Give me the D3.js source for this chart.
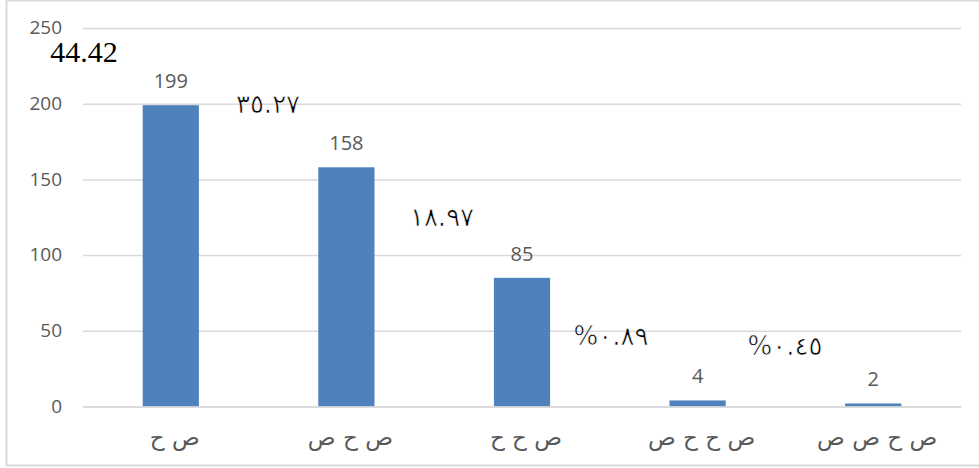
<!DOCTYPE html>
<html><head><meta charset="utf-8">
<script src="https://cdn.jsdelivr.net/npm/d3@7"></script>
<style>
html,body{margin:0;padding:0;background:#fff;overflow:hidden;}
svg{display:block;}
</style></head>
<body>
<svg id="chart" width="979" height="468"></svg>
<script>
const categories = ["ص ح", "ص ح ص", "ص ح ح", "ص ح ح ص", "ص ح ص ص"];
const counts = [199, 158, 85, 4, 2];
const percentLabels = ["44.42", "٣٥.٢٧", "١٨.٩٧", "%٠.٨٩", "%٠.٤٥"];
const yTicks = [0, 50, 100, 150, 200, 250];

const svg = d3.select("#chart");
const plot = {left: 83, right: 961, top: 28, bottom: 406.5};

// chart border
svg.append("rect").attr("x", 6.5).attr("y", 0.5).attr("width", 1000).attr("height", 465)
  .attr("fill", "none").attr("stroke", "#d9d9d9").attr("stroke-width", 2);

const x = d3.scaleBand().domain(categories).range([plot.left, plot.right]).padding(0);
const y = d3.scaleLinear().domain([0, 250]).range([plot.bottom, plot.top]);
const barW = x.bandwidth() * 0.32;

// gridlines + y ticks
const yAxis = d3.axisLeft(y).tickValues(yTicks).tickSize(-(plot.right - plot.left)).tickPadding(21);
const gy = svg.append("g").attr("transform", `translate(${plot.left},0)`).call(yAxis);
gy.select(".domain").remove();
gy.selectAll(".tick line").attr("stroke", "#d9d9d9").attr("stroke-width", 1.5);
gy.selectAll(".tick text").attr("fill", "#595959")
  .style("font-family", "'Open Sans', 'Liberation Sans', sans-serif").style("font-size", "19px")
  .attr("dy", "0.3em");

// bars
svg.append("g").selectAll("rect").data(counts).join("rect")
  .attr("x", (d, i) => x(categories[i]) + x.bandwidth() / 2 - barW / 2)
  .attr("y", d => y(d))
  .attr("width", barW)
  .attr("height", d => y(0) - y(d))
  .attr("fill", "#4f81bd");

// category axis
const xAxis = d3.axisBottom(x).tickSize(0).tickPadding(22);
const gx = svg.append("g").attr("transform", `translate(0,${plot.bottom})`).call(xAxis);
gx.select(".domain").attr("stroke", "#d9d9d9").attr("stroke-width", 1.5);
gx.selectAll(".tick text").attr("fill", "#595959")
  .style("font-family", "'DejaVu Sans', sans-serif").style("font-size", "23px")
  .attr("dx", 4);

// value labels
svg.append("g").selectAll("text").data(counts).join("text")
  .attr("x", (d, i) => x(categories[i]) + x.bandwidth() / 2)
  .attr("y", d => y(d) - 17)
  .attr("text-anchor", "middle")
  .attr("fill", "#595959")
  .style("font-family", "'Open Sans', 'Liberation Sans', sans-serif").style("font-size", "20px")
  .text(d => d);

// percentage labels (positioned in the gaps between bars)
const pctPos = [
  {cx: 84, by: 62},
  {cx: 268, by: 113},
  {cx: 442, by: 226},
  {cx: 611, by: 345},
  {cx: 785, by: 355}
];
svg.append("g").selectAll("text").data(percentLabels).join("text")
  .attr("x", (d, i) => pctPos[i].cx)
  .attr("y", (d, i) => pctPos[i].by)
  .attr("text-anchor", "middle")
  .attr("direction", "ltr")
  .attr("unicode-bidi", "bidi-override")
  .attr("fill", "#000")
  .attr("stroke", (d, i) => i === 0 ? "none" : "#fff")
  .attr("stroke-width", 0.6)
  .style("font-family", (d, i) => i === 0 ? "'Liberation Serif', serif" : "'DejaVu Sans', sans-serif")
  .style("font-size", (d, i) => i === 0 ? "30px" : "26px")
  .text(d => d);
</script>
</body></html>
